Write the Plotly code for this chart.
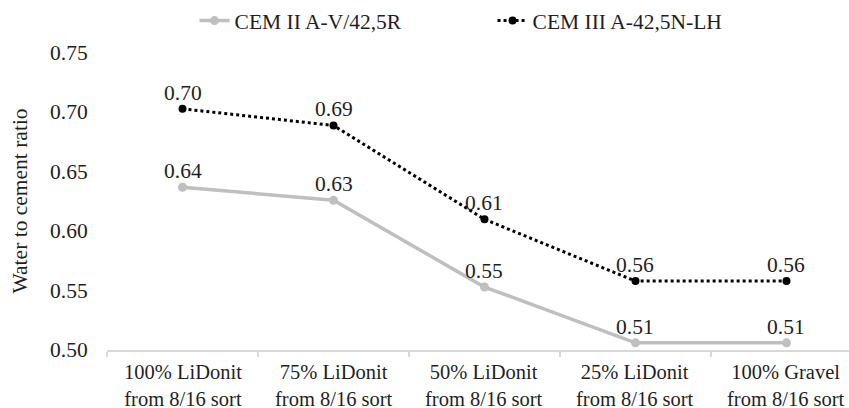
import plotly.graph_objects as go

categories = ["100% LiDonit<br>from 8/16 sort", "75% LiDonit<br>from 8/16 sort",
              "50% LiDonit<br>from 8/16 sort", "25% LiDonit<br>from 8/16 sort",
              "100% Gravel<br>from 8/16 sort"]
cem2_name = "CEM II A-V/42,5R"
cem2_values = [0.637, 0.626, 0.553, 0.506, 0.506]
cem3_name = "CEM III A-42,5N-LH"
cem3_values = [0.703, 0.689, 0.610, 0.558, 0.558]
y_ticks = [0.50, 0.55, 0.60, 0.65, 0.70, 0.75]
y_title = "Water to cement ratio"

x = list(range(len(categories)))
FONT = "Times New Roman, Liberation Serif, serif"
FS = 21.5
TXT = "#1f1f1f"

fig = go.Figure()
fig.add_trace(go.Scatter(
    x=x, y=cem2_values, name=cem2_name, mode="lines+markers",
    line=dict(color="#BFBFBF", width=3.5),
    marker=dict(color="#BFBFBF", size=9, symbol="circle"),
    cliponaxis=False, hoverinfo="skip",
))
fig.add_trace(go.Scatter(
    x=x, y=cem3_values, name=cem3_name, mode="lines+markers",
    line=dict(color="black", width=3, dash="dot"),
    marker=dict(color="black", size=8, symbol="circle"),
    cliponaxis=False, hoverinfo="skip",
))

annotations = []
# data labels
for series in (cem2_values, cem3_values):
    for xi, v in zip(x, series):
        annotations.append(dict(x=xi, y=v, xref="x", yref="y", text=f"{v:.2f}",
                                showarrow=False, yanchor="middle", yshift=16,
                                font=dict(family=FONT, size=FS, color=TXT)))
# category labels
for xi, c in zip(x, categories):
    annotations.append(dict(x=xi, y=0, xref="x", yref="paper", text=c, align="center",
                            showarrow=False, yanchor="middle", yshift=-35.5,
                            font=dict(family=FONT, size=20.5, color=TXT)))
# value-axis labels
for t in y_ticks:
    annotations.append(dict(x=0, y=t, xref="paper", yref="y", text=f"{t:.2f}",
                            showarrow=False, xanchor="right", yanchor="middle", xshift=-17,
                            font=dict(family=FONT, size=FS, color=TXT)))
# axis title
annotations.append(dict(x=0, y=0.5, xref="paper", yref="paper", text=y_title,
                        showarrow=False, textangle=-90, xanchor="center", yanchor="middle",
                        xshift=-88, font=dict(family=FONT, size=FS, color=TXT)))

fig.update_layout(
    template="none",
    width=849, height=408,
    margin=dict(l=107, r=0, t=53, b=58, autoexpand=False),
    paper_bgcolor="white", plot_bgcolor="white",
    font=dict(family=FONT, size=FS, color=TXT),
    showlegend=True,
    legend=dict(orientation="h", x=0.118, xanchor="left", y=1.04, yanchor="bottom",
                bgcolor="rgba(0,0,0,0)", itemwidth=30, traceorder="normal",
                entrywidth=253, entrywidthmode="pixels",
                font=dict(family=FONT, size=FS, color=TXT)),
    xaxis=dict(
        range=[-0.5, 4.414], tickmode="array", tickvals=x, showticklabels=False,
        showgrid=False, zeroline=False, showline=True, linecolor="#D9D9D9", linewidth=1.5,
        ticks="", automargin=False,
        minor=dict(tickmode="linear", tick0=-0.5, dtick=1, ticks="outside", ticklen=5,
                   tickcolor="#D9D9D9", tickwidth=1.5, showgrid=False),
    ),
    yaxis=dict(
        range=[0.50, 0.75], tickmode="array", tickvals=y_ticks, showticklabels=False,
        showgrid=False, zeroline=False, showline=False, ticks="", automargin=False,
    ),
    annotations=annotations,
)

post = "document.body.style.margin='0';"
fig.write_html("out.html", config={"displayModeBar": False, "staticPlot": True},
               post_script=post)
